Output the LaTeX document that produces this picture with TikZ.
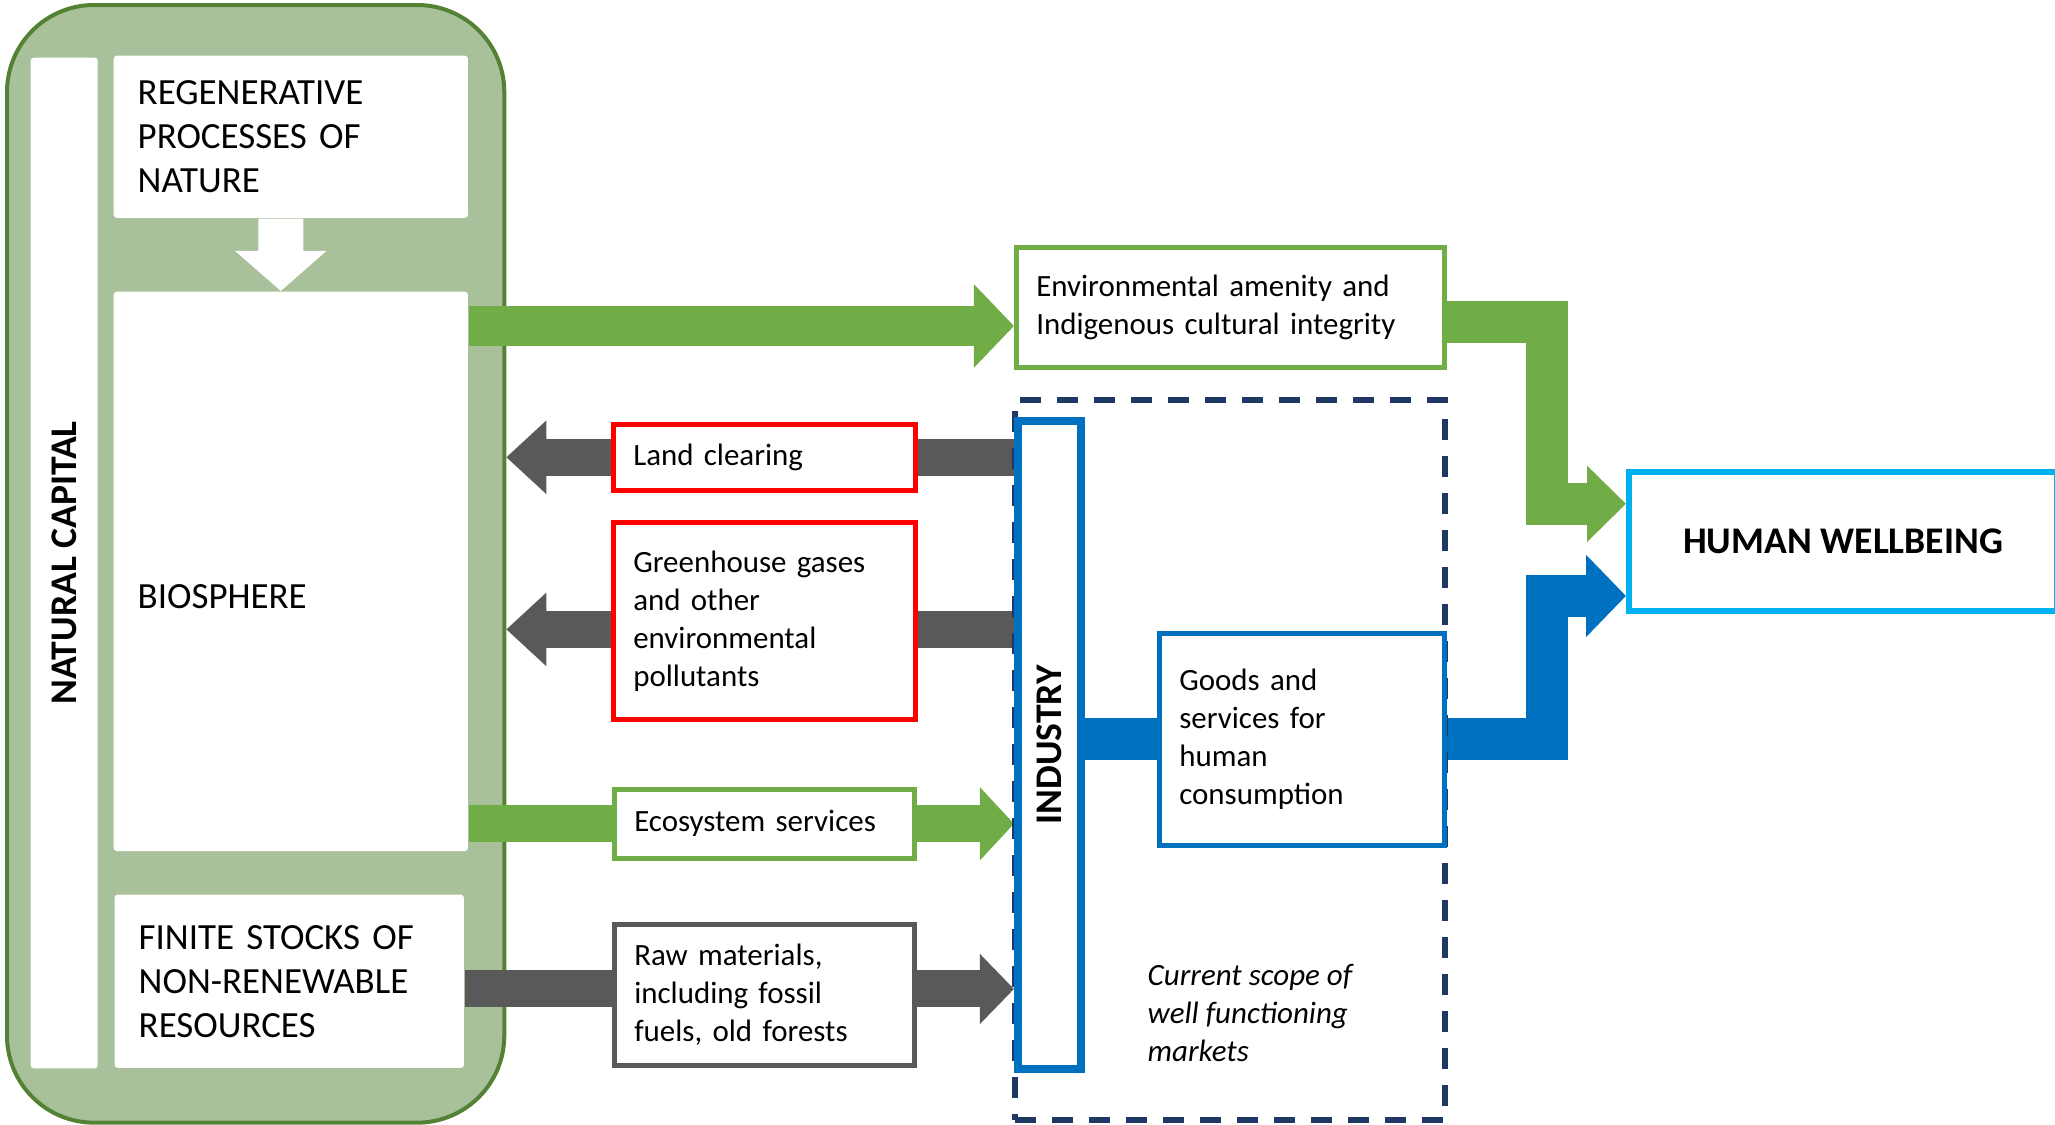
\documentclass[tikz,border=0pt]{standalone}
\usepackage{fontspec}
\setmainfont{Carlito}
\usetikzlibrary{positioning,arrows.meta,calc,backgrounds}

\definecolor{framegreen}{HTML}{548235}
\definecolor{palegreen}{HTML}{A9C19A}
\definecolor{leafgreen}{HTML}{70AD47}
\definecolor{flowgray}{HTML}{595959}
\definecolor{indblue}{HTML}{0070C0}
\definecolor{skyblue}{HTML}{00B0F0}
\definecolor{navy}{HTML}{1F3864}

\begin{document}
\begin{tikzpicture}[
  x=0.01cm, y=-0.01cm,
  plainbox/.style={anchor=north west, fill=white, inner ysep=0pt, align=left},
  bigbox/.style={plainbox, rounded corners=0.03cm, inner xsep=0.24cm, font=\fontsize{10.5}{12.5}\selectfont},
  flowbox/.style={plainbox, draw=#1, line width=0.045cm, inner xsep=0.2cm, font=\fontsize{8.8}{10.8}\selectfont},
  biglbl/.style={font=\fontsize{10.7}{12}\selectfont\bfseries, rotate=90},
  fatarr/.style={line width=0.37cm, -{Triangle[width=0.71cm,length=0.40cm]}}
]
  \useasboundingbox (0,0) rectangle (2055,1124);

  % natural capital side
  \begin{scope}[on background layer]
    \node[anchor=north west, draw=framegreen, fill=palegreen, line width=0.04cm,
      rounded corners=0.87cm, minimum width=4.97cm, minimum height=11.17cm] (frame) at (5,3) {};
  \end{scope}
  \node[plainbox, rounded corners=0.03cm, inner sep=0pt, minimum width=0.67cm, minimum height=10.10cm] (natbar) at (30,57) {};
  \node[biglbl] (natlbl) at (natbar) {NATURAL CAPITAL};
  \node[bigbox, text width=3.06cm, minimum height=1.62cm] (regen) at (113,55) {REGENERATIVE\\PROCESSES OF\\NATURE};
  \node[bigbox, minimum width=3.54cm, minimum height=5.59cm] (bio) at (113,291) {};
  \node[anchor=west, inner sep=0pt, font=\fontsize{10.5}{12.5}\selectfont] (biotxt) at ([xshift=0.24cm,yshift=-0.255cm]bio.west) {BIOSPHERE};
  \node[bigbox, text width=3.01cm, minimum height=1.73cm] (finite) at (114,894) {FINITE STOCKS OF\\NON-RENEWABLE\\RESOURCES};

  % market side
  \node[anchor=north west, draw=navy, dash pattern=on 0.21cm off 0.16cm, line width=0.055cm,
    minimum width=4.30cm, minimum height=7.20cm] (market) at (1012,397) {};
  \node[anchor=west, inner sep=0pt, align=left, font=\fontsize{8.8}{10.8}\selectfont\itshape] (markettxt) at (1147,1013) {Current scope of\\well functioning\\markets};
  \node[flowbox=leafgreen, text width=3.88cm, minimum height=1.20cm] (env) at (1014,245) {Environmental amenity and\\Indigenous cultural integrity};
  \node[flowbox=red, text width=2.62cm, minimum height=0.66cm] (land) at (611,422) {Land clearing};
  \node[flowbox=red, text width=2.62cm, minimum height=1.97cm] (ghg) at (611,520) {Greenhouse gases\\and other\\environmental\\pollutants};
  \node[flowbox=leafgreen, text width=2.60cm, minimum height=0.69cm] (eco) at (612,787) {Ecosystem services};
  \node[flowbox=flowgray, text width=2.60cm, minimum height=1.41cm] (raw) at (612,922) {Raw materials,\\including fossil\\fuels, old forests};
  \node[plainbox, draw=indblue, line width=0.075cm, inner sep=0pt, minimum width=0.63cm, minimum height=6.48cm] (ind) at (1014,417) {};
  \node[biglbl] (indlbl) at (ind) {INDUSTRY};
  \node[flowbox=indblue, text width=2.45cm, minimum height=2.12cm] (goods) at (1157,631) {Goods and\\services for\\human\\consumption};
  \node[anchor=north west, draw=skyblue, fill=white, line width=0.06cm, minimum width=4.28cm, minimum height=1.39cm,
    font=\fontsize{10.7}{12}\selectfont\bfseries] (human) at (1626,469) {HUMAN WELLBEING};

  % where the fat arrows meet the boxes
  \coordinate (a1) at ($(env.west)!0.3!(env.south west)$);
  \coordinate (g1) at ($(ghg.east)!0.085!(ghg.south east)$);
  \coordinate (r1) at ($(raw.east)!0.08!(raw.north east)$);
  \coordinate (e1) at ($(env.east)!0.23!(env.south east)$);
  \coordinate (hw1) at ($(human.west)!0.52!(human.north west)$);
  \coordinate (hw2) at ($(human.west)!0.75!(human.south west)$);
  \coordinate (bend) at ($(goods.east)!0.56!(human.west |- goods.east)$);

  \begin{scope}[on background layer]
    \draw[fatarr, white, line width=0.45cm, -{Triangle[width=0.89cm,length=0.40cm]}] ([xshift=-0.1cm]regen.south) -- ([xshift=-0.1cm]bio.north);
    \draw[fatarr, leafgreen, line width=0.40cm, -{Triangle[width=0.81cm,length=0.40cm]}] (bio.east |- a1) -- (a1);
    \draw[fatarr, flowgray] (ind.west |- land) -- (frame.east |- land);
    \draw[fatarr, flowgray] (ind.west |- g1) -- (frame.east |- g1);
    \draw[fatarr, leafgreen, -{Triangle[width=0.71cm,length=0.34cm]}] (bio.east |- eco) -- (ind.west |- eco);
    \draw[fatarr, flowgray, -{Triangle[width=0.68cm,length=0.34cm]}] (finite.east |- r1) -- (ind.west |- r1);
    \draw[indblue, line width=0.42cm] (ind.east |- goods) -- (goods.west);
    \draw[fatarr, indblue, line width=0.42cm, -{Triangle[width=0.80cm,length=0.40cm]}] (goods.east) -| (bend |- hw2) -- (hw2);
    \draw[fatarr, leafgreen, line width=0.42cm, -{Triangle[width=0.74cm,length=0.39cm]}] (e1) -| (bend |- hw1) -- (hw1);
  \end{scope}
\end{tikzpicture}
\end{document}
